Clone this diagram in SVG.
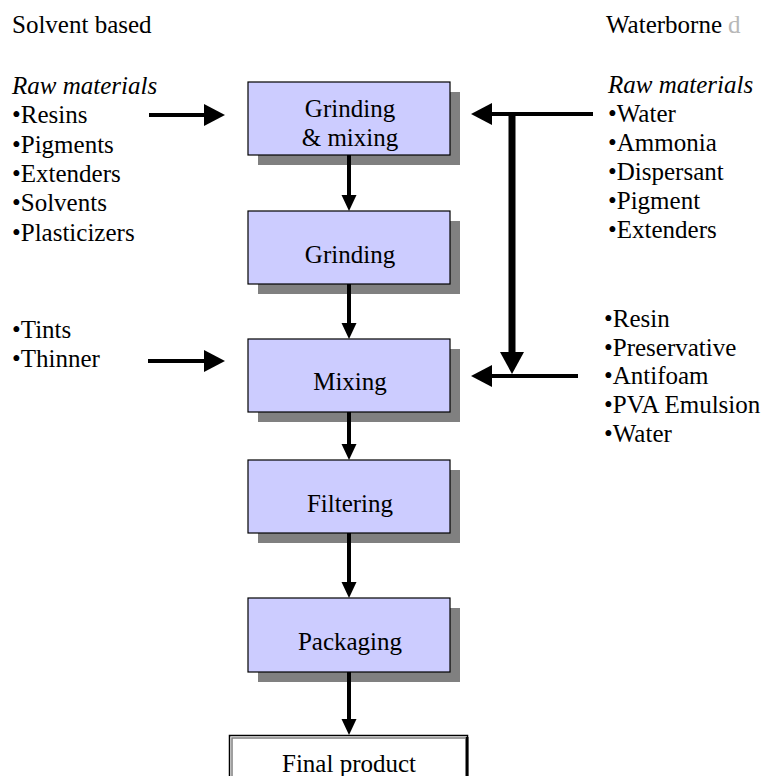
<svg xmlns="http://www.w3.org/2000/svg" width="774" height="776" viewBox="0 0 774 776">
<style>
text{font-size:25px;fill:#000}
.it{font-style:italic}
.c{text-anchor:middle}
.box{fill:#CCCCFF;stroke:#000;stroke-width:1.2}
.sh{fill:#808080}
.ln{stroke:#000;stroke-width:4;fill:none}
.lnb{stroke:#000;stroke-width:7;fill:none}
.hd{fill:#000}
</style>
<rect width="774" height="776" fill="#fff"/>
<g font-family="Liberation Serif">
<g id="labels-left">
<text x="12" y="33">Solvent based</text>
<text x="12" y="94" class="it">Raw materials</text>
<text x="12" y="123">•Resins</text>
<text x="12" y="152.5">•Pigments</text>
<text x="12" y="182">•Extenders</text>
<text x="12" y="211">•Solvents</text>
<text x="12" y="240.5">•Plasticizers</text>
<text x="12" y="338">•Tints</text>
<text x="12" y="367">•Thinner</text>
</g>
<g id="labels-right">
<text x="606" y="33">Waterborne</text>
<text x="728" y="33" style="fill:#b8b8b8">d</text>
<text x="608" y="93" class="it">Raw materials</text>
<text x="608" y="122">•Water</text>
<text x="608" y="151">•Ammonia</text>
<text x="608" y="180">•Dispersant</text>
<text x="608" y="209">•Pigment</text>
<text x="608" y="238">•Extenders</text>
<text x="604" y="327">•Resin</text>
<text x="604" y="355.7">•Preservative</text>
<text x="604" y="384.4">•Antifoam</text>
<text x="604" y="413">•PVA Emulsion</text>
<text x="604" y="441.8">•Water</text>
</g>
<g id="node-grinding-mixing">
<rect class="sh" x="258" y="92" width="202" height="73"/>
<rect class="box" x="248" y="82" width="202" height="73"/>
<text x="350" y="117" class="c">Grinding</text>
<text x="350" y="145.5" class="c">&amp; mixing</text>
</g>
<g id="node-grinding">
<rect class="sh" x="258" y="221" width="202" height="73"/>
<rect class="box" x="248" y="211" width="202" height="73"/>
<text x="350" y="263" class="c">Grinding</text>
</g>
<g id="node-mixing">
<rect class="sh" x="258" y="349" width="202" height="73"/>
<rect class="box" x="248" y="339" width="202" height="73"/>
<text x="350" y="390" class="c">Mixing</text>
</g>
<g id="node-filtering">
<rect class="sh" x="258" y="470" width="202" height="73"/>
<rect class="box" x="248" y="460" width="202" height="73"/>
<text x="350" y="512" class="c">Filtering</text>
</g>
<g id="node-packaging">
<rect class="sh" x="258" y="608" width="202" height="74"/>
<rect class="box" x="248" y="598" width="202" height="74"/>
<text x="350" y="650" class="c">Packaging</text>
</g>
<g id="node-final-product">
<rect x="229.5" y="735.5" width="238" height="60" fill="#fff" stroke="#000" stroke-width="1.5"/>
<path d="M232 796 V738 H465" fill="none" stroke="#808080" stroke-width="1.5"/>
<path d="M467 737 V796" fill="none" stroke="#000" stroke-width="3"/>
<text x="349" y="772" class="c">Final product</text>
</g>
</g>
<g id="connectors">
<line class="ln" x1="149" y1="115" x2="206" y2="115"/>
<polygon class="hd" points="204,104 225,115 204,126"/>
<line class="ln" x1="148" y1="361" x2="206" y2="361"/>
<polygon class="hd" points="204,350 225,361 204,372"/>
<line class="ln" x1="593" y1="114" x2="490" y2="114"/>
<polygon class="hd" points="492,103 471,114 492,125"/>
<line class="lnb" x1="512" y1="112" x2="512" y2="356"/>
<polygon class="hd" points="500,352 524,352 512,374"/>
<line class="ln" x1="578" y1="376" x2="490" y2="376"/>
<polygon class="hd" points="492,365 471,376 492,387"/>
<line class="ln" x1="349" y1="155" x2="349" y2="197"/>
<polygon class="hd" points="341.5,195 356.5,195 349,211"/>
<line class="ln" x1="349" y1="284" x2="349" y2="325"/>
<polygon class="hd" points="341.5,323 356.5,323 349,339"/>
<line class="ln" x1="349" y1="412" x2="349" y2="446"/>
<polygon class="hd" points="341.5,444 356.5,444 349,460"/>
<line class="ln" x1="349" y1="533" x2="349" y2="584"/>
<polygon class="hd" points="341.5,582 356.5,582 349,598"/>
<line class="ln" x1="349" y1="672" x2="349" y2="721"/>
<polygon class="hd" points="341.5,719 356.5,719 349,735"/>
</g>
</svg>
